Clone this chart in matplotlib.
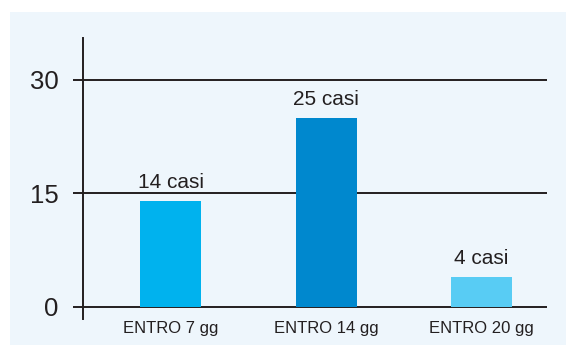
import matplotlib
matplotlib.use("Agg")
import matplotlib.pyplot as plt
from matplotlib.patches import Rectangle

categories = ["ENTRO 7 gg", "ENTRO 14 gg", "ENTRO 20 gg"]
cases = [14, 25, 4]
bar_colors = ["#00B2EE", "#0088CE", "#58CCF4"]
y_ticks = [0, 15, 30]

plt.rcParams['font.family'] = ['Liberation Sans', 'DejaVu Sans']

fig = plt.figure(figsize=(5.66, 3.45), dpi=100)
fig.patch.set_facecolor("white")
# light blue panel behind the chart
fig.add_artist(Rectangle((10 / 566, 0), 556 / 566, 333 / 345,
                         transform=fig.transFigure, facecolor="#EEF6FC",
                         edgecolor="none", zorder=-5))

ax = fig.add_axes([83 / 566, 26 / 345, 464 / 566, 281 / 345])
ax.set_zorder(2)
ax.set_facecolor("none")

x = list(range(len(categories)))
ax.bar(x, cases, width=0.392, color=bar_colors, zorder=3)

for xi, v in zip(x, cases):
    ax.annotate(f"{v} casi", (xi, v), xytext=(0, 6.5), textcoords="offset points",
                ha="center", va="bottom", fontsize=15, color="#231F20")

ax.set_xlim(-0.563, 2.42)
ax.set_ylim(-1.59, 35.55)

for yv in y_ticks:
    ax.axhline(yv, color="#231F20", lw=1.4, zorder=2)

ax.set_yticks(y_ticks)
ax.set_yticklabels([str(t) for t in y_ticks], fontsize=18.5, color="#231F20")
ax.tick_params(axis="y", length=7.5, width=1.4, color="#231F20", pad=10)

ax.set_xticks(x)
ax.set_xticklabels(categories, fontsize=12, color="#231F20")
ax.tick_params(axis="x", length=0, pad=1.5)

for s in ["top", "right", "bottom"]:
    ax.spines[s].set_visible(False)
ax.spines["left"].set_linewidth(1.4)
ax.spines["left"].set_color("#231F20")

fig.savefig("out.png", dpi=100)
